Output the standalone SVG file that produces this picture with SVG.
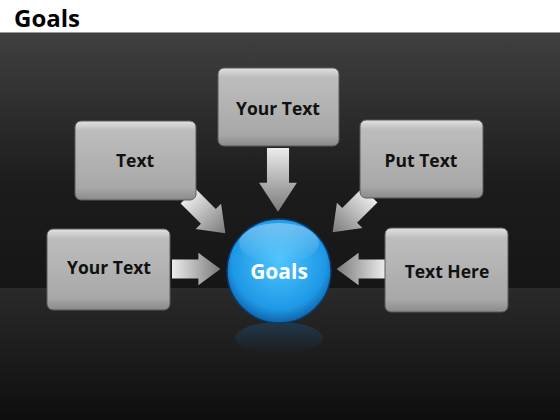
<svg xmlns="http://www.w3.org/2000/svg" width="560" height="420" viewBox="0 0 560 420">
<defs>
<style>
.lbl{font-family:"Open Sans","Liberation Sans",sans-serif;font-weight:bold;font-size:17.5px;fill:#111;text-anchor:middle}
.box{fill:url(#boxg);stroke:#5a5a5a;stroke-width:1}
.arr{fill:url(#arrg)}
</style>
<linearGradient id="bg" x1="0" y1="0" x2="0" y2="1">
<stop offset="0" stop-color="#404040"/>
<stop offset="0.6" stop-color="#1c1c1c"/>
<stop offset="1" stop-color="#161616"/>
</linearGradient>
<linearGradient id="floor" x1="0" y1="0" x2="0" y2="1">
<stop offset="0" stop-color="#2a2a2a"/>
<stop offset="1" stop-color="#0e0e0e"/>
</linearGradient>
<linearGradient id="boxg" x1="0" y1="0" x2="0" y2="1">
<stop offset="0" stop-color="#e2e2e2"/>
<stop offset="0.12" stop-color="#bdbdbd"/>
<stop offset="0.85" stop-color="#a8a8a8"/>
<stop offset="1" stop-color="#8a8a8a"/>
</linearGradient>
<linearGradient id="arrg" x1="0" y1="0" x2="1" y2="0">
<stop offset="0" stop-color="#ececec"/>
<stop offset="1" stop-color="#7a7a7a"/>
</linearGradient>
<radialGradient id="ball" cx="0.5" cy="0.42" r="0.6">
<stop offset="0" stop-color="#4cc4ff"/>
<stop offset="0.75" stop-color="#1e98e6"/>
<stop offset="1" stop-color="#0c5a9e"/>
</radialGradient>
<linearGradient id="shine" x1="0" y1="0" x2="0" y2="1">
<stop offset="0" stop-color="#ffffff" stop-opacity="0.35"/>
<stop offset="1" stop-color="#ffffff" stop-opacity="0"/>
</linearGradient>
<linearGradient id="refl" x1="0" y1="0" x2="0" y2="1">
<stop offset="0" stop-color="#1a6aa8" stop-opacity="0.3"/>
<stop offset="1" stop-color="#1a6aa8" stop-opacity="0"/>
</linearGradient>
<path id="arrow" d="M0,-10.5 L24,-10.5 L24,-18 L44,0 L24,18 L24,10.5 L0,10.5 Z"/>
</defs>
<rect width="560" height="420" fill="#ffffff"/>
<rect y="32" width="560" height="256" fill="url(#bg)"/>
<rect y="288" width="560" height="132" fill="url(#floor)"/>
<line x1="0" y1="32.5" x2="560" y2="32.5" stroke="#999" stroke-width="1"/>
<text x="14" y="27" font-family="'Open Sans','Liberation Sans',sans-serif" font-weight="bold" font-size="24" fill="#000">Goals</text>

<g id="connectors">
<use href="#arrow" class="arr" transform="translate(278,148) rotate(90) scale(1.45,1.05)"/>
<use href="#arrow" class="arr" transform="translate(188,196) rotate(45) scale(1.2,1)"/>
<use href="#arrow" class="arr" transform="translate(370,195) rotate(135) scale(1.2,1)"/>
<use href="#arrow" class="arr" transform="translate(172,269) scale(1.1,0.9)"/>
<use href="#arrow" class="arr" transform="translate(385,269) rotate(180) scale(1.1,0.9)"/>
</g>

<g id="node-top"><rect class="box" x="218" y="68" width="121" height="78" rx="6"/><text class="lbl" x="278" y="115">Your Text</text></g>
<g id="node-lefttop"><rect class="box" x="75" y="121" width="121" height="79" rx="6"/><text class="lbl" x="135" y="167">Text</text></g>
<g id="node-righttop"><rect class="box" x="360" y="120" width="123" height="78" rx="6"/><text class="lbl" x="421" y="167">Put Text</text></g>
<g id="node-leftbottom"><rect class="box" x="47" y="229" width="123" height="81" rx="6"/><text class="lbl" x="109" y="274">Your Text</text></g>
<g id="node-rightbottom"><rect class="box" x="385" y="228" width="123" height="84" rx="6"/><text class="lbl" x="447" y="278">Text Here</text></g>

<g id="node-goals">
<ellipse cx="279" cy="338" rx="44" ry="16" fill="url(#refl)"/>
<circle cx="279" cy="271" r="52" fill="url(#ball)" stroke="#0a3a6a" stroke-width="1.5"/>
<ellipse cx="279" cy="243" rx="40" ry="20" fill="url(#shine)"/>
<text x="279" y="279" text-anchor="middle" font-family="'Open Sans','Liberation Sans',sans-serif" font-weight="bold" font-size="21" fill="#ffffff">Goals</text>
</g>
</svg>
